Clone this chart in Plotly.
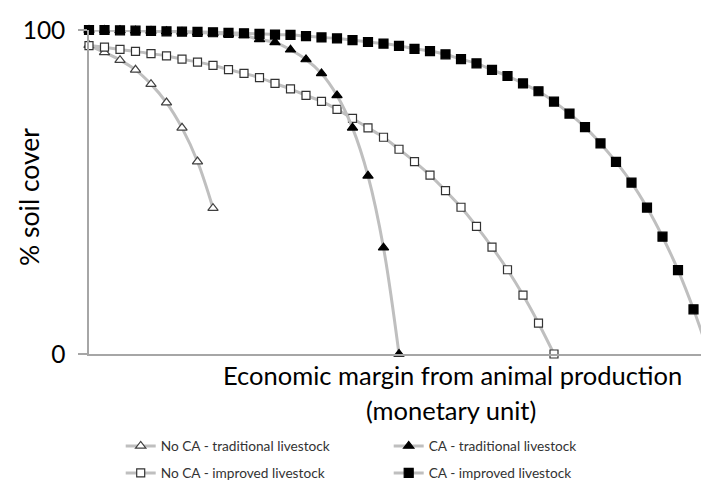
import plotly.graph_objects as go

# ---- data ----
x_noca_trad = list(range(0, 9))
y_noca_trad = [95.3, 93.1, 90.7, 87.7, 83.3, 77.6, 69.8, 59.4, 45.0]

x_ca_trad = list(range(0, 21))
y_ca_trad = [100, 100, 99.9, 99.8, 99.7, 99.6, 99.4, 99.2, 99.0, 98.7,
             98.3, 97.1, 96.2, 93.9, 90.9, 86.6, 79.8, 69.8, 55.0, 32.8, 0]

x_noca_impr = list(range(0, 31))
y_noca_impr = [95.2, 94.7, 94.0, 93.4, 92.7, 92.0, 91.0, 90.1, 89.1, 87.8,
               86.6, 85.3, 83.5, 81.8, 79.8, 78.0, 75.5, 72.7, 69.8, 66.9,
               63.2, 59.4, 55.2, 50.4, 45.3, 39.4, 33.0, 26.0, 18.2, 9.5, 0]

x_ca_impr = list(range(0, 41))
y_ca_impr = [100, 100, 99.9, 99.8, 99.7, 99.6, 99.5, 99.4, 99.3, 99.1,
             99.0, 98.8, 98.6, 98.5, 98.1, 97.7, 97.4, 96.9, 96.3, 95.8,
             95.1, 94.2, 93.5, 92.5, 91.0, 89.7, 87.7, 85.8, 83.5, 81.1,
             77.9, 74.2, 70.0, 65.0, 59.3, 52.9, 45.2, 36.2, 25.9, 13.8, 0]

names = ["No CA - traditional livestock", "CA - traditional livestock",
         "No CA - improved livestock", "CA - improved livestock"]
y_ticks = [0, 100]
x_title_1 = "Economic margin from animal production"
x_title_2 = "(monetary unit)"
y_title = "% soil cover"

FONT = "Lato"
LINE = "#BFBFBF"

# page body adds an 8px offset, so the figure is 8px smaller on each side
W, H = 701, 476
ML, MT, PW, PH = 81, 22, 620, 324

fig = go.Figure()

def add(x, y, name, symbol, fill, outline, size, legend):
    fig.add_trace(go.Scatter(
        x=x, y=y, name=name, mode="lines+markers",
        line=dict(color=LINE, width=3, shape="spline", smoothing=1),
        marker=dict(symbol=symbol, size=size, color=fill,
                    line=dict(color=outline, width=1.2)),
        cliponaxis=False, legend=legend,
    ))

add(x_noca_trad, y_noca_trad, names[0], "triangle-up", "white", "#404040", 9, "legend")
add(x_noca_impr, y_noca_impr, names[2], "square", "white", "#333333", 8, "legend2")
add(x_ca_trad, y_ca_trad, names[1], "triangle-up", "black", "black", 9, "legend")
add(x_ca_impr, y_ca_impr, names[3], "square", "black", "black", 9, "legend2")

axis_col = "#A6A6A6"
fig.update_xaxes(range=[0, 40], showline=True, linecolor=axis_col, linewidth=1.5,
                 showgrid=False, zeroline=False, showticklabels=False, ticks="")
fig.update_yaxes(range=[0, 100], showline=True, linecolor=axis_col, linewidth=1.5,
                 showgrid=False, zeroline=False, tickvals=y_ticks, ticks="outside",
                 ticklen=9, tickcolor=axis_col, tickwidth=1.5, ticklabelstandoff=8,
                 tickfont=dict(family=FONT, size=24.5, color="black"))

def sx(px):  # screen x -> paper
    return (px - 8 - ML) / PW

def sy(py):  # screen y -> paper
    return (MT + PH - (py - 8)) / PH

leg_common = dict(orientation="h", xref="container", yref="container",
                  x=(120.7 - 8) / W, xanchor="left", yanchor="middle",
                  font=dict(family=FONT, size=13.7, color="#333333"),
                  entrywidth=223, bgcolor="rgba(0,0,0,0)")
fig.update_layout(
    width=W, height=H,
    margin=dict(l=ML, r=W - ML - PW, t=MT, b=H - MT - PH),
    paper_bgcolor="white", plot_bgcolor="white",
    legend=dict(y=1 - (446 - 8) / H, **leg_common),
    legend2=dict(y=1 - (473 - 8) / H, **leg_common),
    annotations=[
        dict(text=x_title_1, xref="paper", yref="paper", x=sx(452), y=sy(375),
             xanchor="center", yanchor="middle", showarrow=False,
             font=dict(family=FONT, size=25.5, color="black")),
        dict(text=x_title_2, xref="paper", yref="paper", x=sx(451), y=sy(410),
             xanchor="center", yanchor="middle", showarrow=False,
             font=dict(family=FONT, size=25.5, color="black")),
        dict(text=y_title, xref="paper", yref="paper", x=sx(29), y=sy(197),
             xanchor="center", yanchor="middle", showarrow=False,
             textangle=-90, font=dict(family=FONT, size=26.5, color="black")),
    ],
)

fig.write_html("out.html")
